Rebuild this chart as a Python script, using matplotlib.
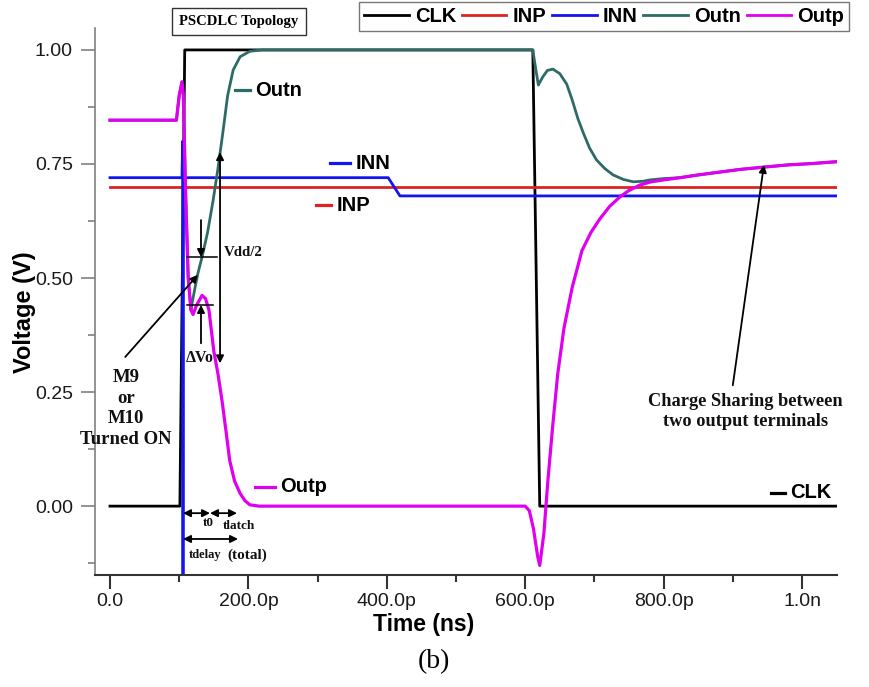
import matplotlib
matplotlib.use("Agg")
import matplotlib.pyplot as plt
from matplotlib.lines import Line2D
from matplotlib.ticker import MultipleLocator, FormatStrFormatter

# -----------------------------
# DATA (time in ps, voltage in V)
# -----------------------------
clk_t = [0, 101, 108, 611, 621, 1050]
clk_v = [0, 0, 1.0, 1.0, 0, 0]

inp_t = [0, 1050]
inp_v = [0.70, 0.70]

inn_t = [0, 104, 105, 105.5, 106, 402, 419, 1050]
inn_v = [0.72, 0.72, 0.80, -0.30, 0.72, 0.72, 0.68, 0.68]

outn_t = [0, 96, 100, 104, 106, 109, 113, 117, 118, 123, 127, 133, 141, 149,
          156, 163, 170, 178, 188, 202, 220, 611, 614, 619, 625, 632, 640, 650,
          660, 668, 676, 684, 693, 703, 715, 727, 742, 756, 770, 780, 800, 824,
          850, 880, 910, 944, 980, 1015, 1050]
outn_v = [0.846, 0.846, 0.90, 0.93, 0.90, 0.70, 0.50, 0.43, 0.44, 0.48, 0.51,
          0.546, 0.60, 0.67, 0.74, 0.818, 0.90, 0.956, 0.985, 0.997, 1.0, 1.0,
          0.97, 0.923, 0.94, 0.955, 0.958, 0.948, 0.925, 0.89, 0.85, 0.818,
          0.785, 0.759, 0.74, 0.726, 0.716, 0.711, 0.712, 0.715, 0.718, 0.72,
          0.726, 0.732, 0.738, 0.743, 0.748, 0.751, 0.755]

outp_t = [0, 96, 100, 104, 106, 109, 113, 117, 120, 125, 133, 138, 143, 150,
          156, 162, 168, 173, 180, 188, 195, 202, 215, 600, 606, 612, 618, 621,
          627, 633, 640, 647, 656, 668, 682, 695, 708, 722, 737, 750, 766, 782,
          800, 824, 850, 880, 910, 944, 980, 1015, 1050]
outp_v = [0.846, 0.846, 0.90, 0.93, 0.90, 0.70, 0.50, 0.43, 0.42, 0.44, 0.462,
          0.455, 0.43, 0.34, 0.29, 0.23, 0.16, 0.10, 0.055, 0.028, 0.012, 0.003,
          0.0, 0.0, -0.01, -0.05, -0.11, -0.13, -0.06, 0.06, 0.18, 0.29, 0.39,
          0.48, 0.56, 0.60, 0.63, 0.657, 0.678, 0.692, 0.704, 0.711, 0.715,
          0.72, 0.726, 0.732, 0.738, 0.743, 0.748, 0.751, 0.755]

x_ticks = [0, 200, 400, 600, 800, 1000]
x_tick_labels = ["0.0", "200.0p", "400.0p", "600.0p", "800.0p", "1.0n"]

series_names = ["CLK", "INP", "INN", "Outn", "Outp"]
colors = {"CLK": "#000000", "INP": "#dd2222", "INN": "#1414f0",
          "Outn": "#2f6b66", "Outp": "#e000f0"}

SANS = "Liberation Sans"
SERIF = "Liberation Serif"

# -----------------------------
# FIGURE
# -----------------------------
fig = plt.figure(figsize=(8.69, 6.87), dpi=100)
ax = fig.add_axes([0.1093, 0.163, 0.8539, 0.7962])

ax.plot(clk_t, clk_v, color=colors["CLK"], lw=2)
ax.plot(inp_t, inp_v, color=colors["INP"], lw=2)
ax.plot(inn_t, inn_v, color=colors["INN"], lw=2)
ax.plot(outn_t, outn_v, color=colors["Outn"], lw=2)
ax.plot(outp_t, outp_v, color=colors["Outp"], lw=2.3)

ax.set_xlim(-21.7, 1050.6)
ax.set_ylim(-0.151, 1.048)

for s in ["top", "right"]:
    ax.spines[s].set_visible(False)
ax.spines["left"].set_color("#808080")
ax.spines["bottom"].set_color("#333333")
ax.spines["left"].set_linewidth(1.2)
ax.spines["bottom"].set_linewidth(1.5)

ax.set_xticks(x_ticks)
ax.set_xticklabels(x_tick_labels)
ax.xaxis.set_minor_locator(MultipleLocator(100))
ax.yaxis.set_major_locator(MultipleLocator(0.25))
ax.yaxis.set_minor_locator(MultipleLocator(0.125))
ax.yaxis.set_major_formatter(FormatStrFormatter("%.2f"))
ax.tick_params(axis="y", which="major", length=10, width=1.2, color="#808080",
               labelsize=14, pad=6)
ax.tick_params(axis="y", which="minor", length=5, width=1.2, color="#808080")
ax.tick_params(axis="x", which="major", length=10, width=1.5, color="#333333",
               labelsize=14, pad=3)
ax.tick_params(axis="x", which="minor", length=5, width=1.5, color="#333333")
for lab in ax.get_xticklabels() + ax.get_yticklabels():
    lab.set_family(SANS)
    lab.set_color("#1a1a1a")

fig.text(424 / 869, 1 - 625 / 687, "Time (ns)", ha="center", va="center",
         family=SANS, weight="bold", size=16.5)
fig.text(25 / 869, 1 - 312 / 687, "Voltage (V)", ha="center", va="center",
         rotation=90, family=SANS, weight="bold", size=17)
fig.text(434 / 869, 1 - 662 / 687, "(b)", ha="center", va="center",
         family=SERIF, size=20)

# legend
handles = [Line2D([], [], color=colors[n], lw=2) for n in series_names]
fig.legend(handles, series_names, loc="upper right",
           bbox_to_anchor=(849 / 869, 1 - 2 / 687), ncol=5, frameon=True,
           fancybox=False, edgecolor="#777777", framealpha=1,
           prop={"family": SANS, "weight": "bold", "size": 14.5},
           handlelength=2.2, handletextpad=0.3, columnspacing=0.3,
           borderpad=0.25, borderaxespad=0)

fig.text(239 / 869, 1 - 21.5 / 687, "PSCDLC Topology", ha="center", va="center",
         family=SERIF, weight="bold", size=10.5,
         bbox=dict(boxstyle="square,pad=0.5", fc="white", ec="#333333", lw=1))

# -----------------------------
# INLINE LABELS
# -----------------------------
def inline_label(x0, x1, y, text, color):
    ax.plot([x0, x1], [y, y], color=color, lw=2.3)
    ax.text(x1 + 8, y, text, ha="left", va="center", family=SANS,
            weight="bold", size=14.5)

inline_label(181, 202, 0.912, "Outn", colors["Outn"])
inline_label(318, 347, 0.752, "INN", colors["INN"])
inline_label(298, 319, 0.66, "INP", colors["INP"])
inline_label(210, 238, 0.042, "Outp", colors["Outp"])
inline_label(955, 975, 0.029, "CLK", colors["CLK"])

# -----------------------------
# ANNOTATIONS
# -----------------------------
def arrow(xy, xytext, style="-|>"):
    ax.annotate("", xy=xy, xytext=xytext,
                arrowprops=dict(arrowstyle=style, color="black", lw=1.3,
                                mutation_scale=11, shrinkA=0, shrinkB=0))

ann = dict(family=SERIF, weight="bold", color="#111111")

# Vdd/2 span
arrow((159, 0.776), (159, 0.313), style="<|-|>")
ax.text(165, 0.557, "Vdd/2", ha="left", va="center", size=10.7, **ann)

# delta Vo markers
ax.plot([111, 155], [0.546, 0.546], color="black", lw=1.1)
ax.plot([111, 149], [0.441, 0.441], color="black", lw=1.1)
arrow((131.5, 0.546), (131.5, 0.627))
arrow((131.5, 0.441), (131.5, 0.357))
ax.text(130, 0.325, "\u0394Vo", ha="center", va="center", size=11.4, **ann)

# M9 / M10
arrow((127, 0.507), (22, 0.327))
ax.text(23, 0.214, "M9\nor\nM10\nTurned ON", ha="center", va="center",
        size=13.5, linespacing=1.3, **ann)

# Charge sharing
arrow((945, 0.748), (900, 0.265))
ax.text(918, 0.207, "Charge Sharing between\ntwo output terminals",
        ha="center", va="center", size=13.2, linespacing=1.2, **ann)

# timing arrows
arrow((144.5, -0.0154), (105.5, -0.0154), style="<|-|>")
arrow((183.5, -0.0154), (144.5, -0.0154), style="<|-|>")
arrow((185, -0.072), (105.5, -0.072), style="<|-|>")
ax.text(141.6, -0.037, "t0", ha="center", va="center", size=9.5, **ann)
ax.text(186, -0.044, "tlatch", ha="center", va="center", size=9.5, **ann)
ax.text(137, -0.107, "tdelay", ha="center", va="center", size=9, **ann)
ax.text(199, -0.107, "(total)", ha="center", va="center", size=11, **ann)

fig.savefig("out.png", dpi=100)
